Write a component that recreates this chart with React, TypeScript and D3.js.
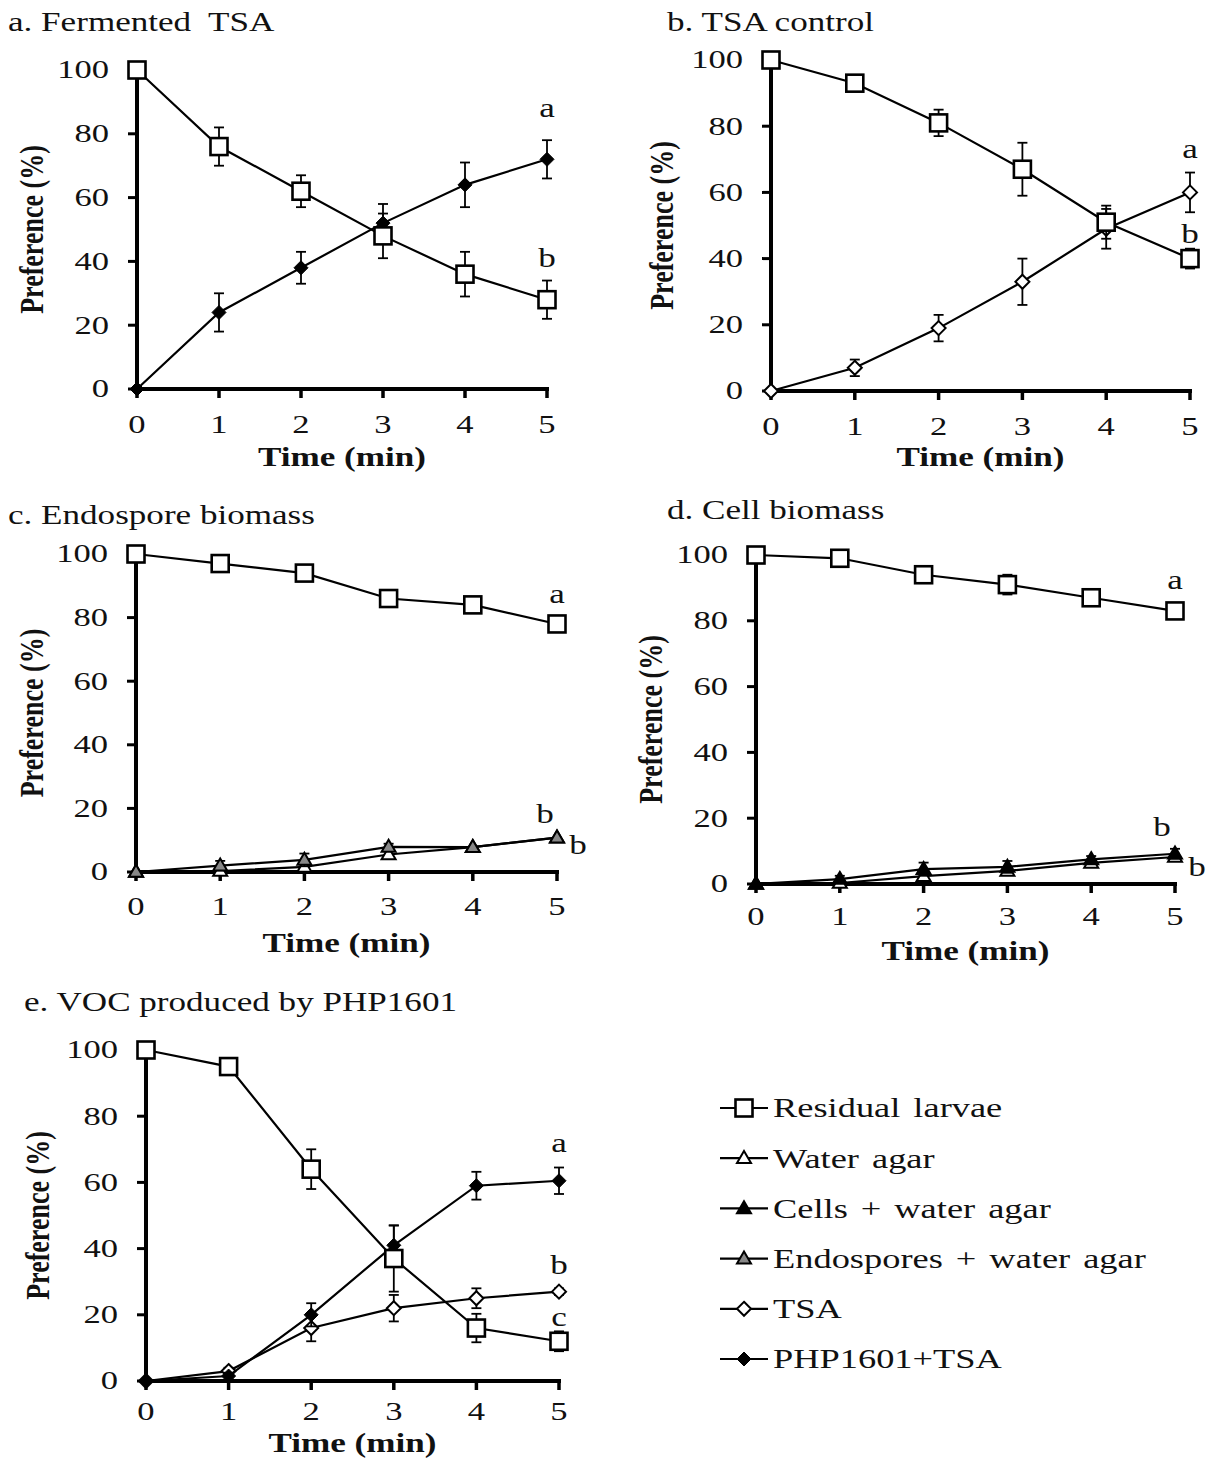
import React from "react";
import * as d3 from "d3";

// ---- data ----
const TIMES = [0, 1, 2, 3, 4, 5];
const Y_TICKS = [0, 20, 40, 60, 80, 100];

// a. Fermented TSA
const fermentedResidual = [100, 76, 62, 48, 36, 28];
const fermentedResidualErr = [0, 6, 5, 7, 7, 6];
const fermentedPhp = [0, 24, 38, 52, 64, 72];
const fermentedPhpErr = [0, 6, 5, 6, 7, 6];

// b. TSA control
const controlResidual = [100, 93, 81, 67, 51, 40];
const controlResidualErr = [0, 1, 4, 8, 5, 3];
const controlTsa = [0, 7, 19, 33, 49, 60];
const controlTsaErr = [0, 2.5, 4, 7, 6, 6];

// c. Endospore biomass
const endoResidual = [100, 97, 94, 86, 84, 78];
const endoResidualErr = [0, 0.5, 2.5, 1, 0.5, 0.5];
const endoWater = [0, 0.3, 1.6, 5.5, 7.8, 10.8];
const endoWaterErr = [0, 0.5, 1, 1, 0.5, 0.5];
const endoSpores = [0, 2, 3.8, 7.9, 7.8, 10.8];
const endoSporesErr = [0, 1.5, 2, 1, 0.5, 0.5];

// d. Cell biomass
const cellResidual = [100, 99, 94, 91, 87, 83];
const cellResidualErr = [0, 0.5, 1.5, 3, 1, 1];
const cellWater = [0, 0.3, 2.4, 4, 6.4, 8.2];
const cellWaterErr = [0, 0.5, 1, 1, 1, 1];
const cellCells = [0, 1.5, 4.5, 5.2, 7.5, 9.2];
const cellCellsErr = [0, 1, 2, 1.8, 1, 1.5];

// e. VOC produced by PHP1601
const vocResidual = [100, 95, 64, 37, 16, 12];
const vocResidualErr = [0, 1, 6, 10, 4.3, 3];
const vocTsa = [0, 3, 16, 22, 25, 27];
const vocTsaErr = [0, 1, 4, 4, 3, 1];
const vocPhp = [0, 1.5, 20, 41, 59, 60.5];
const vocPhpErr = [0, 1, 3.5, 6, 4.2, 4];

const LEGEND_LABELS = [
  "Residual larvae",
  "Water agar",
  "Cells + water agar",
  "Endospores + water agar",
  "TSA",
  "PHP1601+TSA",
];
type MarkerKind = "square" | "triOpen" | "triFilled" | "triGray" | "diaOpen" | "diaFilled";
const LEGEND_MARKERS: MarkerKind[] = ["square", "triOpen", "triFilled", "triGray", "diaOpen", "diaFilled"];

// ---- drawing helpers ----
const FONT = "'Liberation Serif', 'Times New Roman', serif";

function Label(props: {
  x: number;
  y: number;
  size: number;
  sx?: number;
  bold?: boolean;
  anchor?: "start" | "middle" | "end";
  rotate?: boolean;
  wordSpacing?: number;
  children: React.ReactNode;
}) {
  const { x, y, size, sx = 1.28, bold, anchor = "middle", rotate, wordSpacing, children } = props;
  return (
    <g transform={`translate(${x},${y}) scale(${sx},1)${rotate ? " rotate(-90)" : ""}`}>
      <text
        textAnchor={anchor}
        dominantBaseline="central"
        fontSize={size}
        fontWeight={bold ? "bold" : "normal"}
        fontFamily={FONT}
        fill="#111"
        wordSpacing={wordSpacing}
        style={{ whiteSpace: "pre" }}
      >
        {children}
      </text>
    </g>
  );
}

function Marker({ kind, cx, cy }: { kind: MarkerKind; cx: number; cy: number }) {
  switch (kind) {
    case "square": {
      const s = 17;
      return <rect x={cx - s / 2} y={cy - s / 2} width={s} height={s} fill="#fff" stroke="#000" strokeWidth={2.6} />;
    }
    case "diaFilled": {
      const r = 7;
      return <path d={`M${cx},${cy - r}L${cx + r},${cy}L${cx},${cy + r}L${cx - r},${cy}Z`} fill="#000" stroke="#000" strokeWidth={1} />;
    }
    case "diaOpen": {
      const r = 7;
      return <path d={`M${cx},${cy - r}L${cx + r},${cy}L${cx},${cy + r}L${cx - r},${cy}Z`} fill="#fff" stroke="#000" strokeWidth={2} />;
    }
    default: {
      const h = 12;
      const w = 14;
      const fill = kind === "triOpen" ? "#fff" : kind === "triGray" ? "#888" : "#000";
      return (
        <path
          d={`M${cx},${cy - h * 0.6}L${cx + w / 2},${cy + h * 0.4}L${cx - w / 2},${cy + h * 0.4}Z`}
          fill={fill}
          stroke="#000"
          strokeWidth={2}
        />
      );
    }
  }
}

type Series = { values: number[]; err: number[]; marker: MarkerKind };
type Letter = { t: number; v: number; text: string; dx?: number };

type PanelProps = {
  x0: number;
  x1: number;
  y0: number;
  y1: number;
  series: Series[];
  letters: Letter[];
  title: string;
  titleX: number;
  titleY: number;
  tickDy: number;
  timeDy: number;
  ylabelX: number;
};

function Panel(p: PanelProps) {
  const x = d3.scaleLinear().domain([0, 5]).range([p.x0, p.x1]);
  const y = d3.scaleLinear().domain([0, 100]).range([p.y0, p.y1]);
  const line = d3
    .line<number>()
    .x((_, i) => x(TIMES[i]))
    .y((d) => y(d));
  const cap = 5;
  return (
    <g>
      <Label x={p.titleX} y={p.titleY} size={27} sx={1.3} anchor="start">
        {p.title}
      </Label>

      {/* axes */}
      <line x1={p.x0} x2={p.x0} y1={p.y1} y2={p.y0} stroke="#000" strokeWidth={4} />
      <line x1={p.x0} x2={p.x1 + 2} y1={p.y0} y2={p.y0} stroke="#000" strokeWidth={4} />
      {Y_TICKS.map((v) => (
        <g key={"yt" + v}>
          <line x1={p.x0 - 9} x2={p.x0} y1={y(v)} y2={y(v)} stroke="#000" strokeWidth={3} />
          <Label x={p.x0 - 28} y={y(v)} size={26} sx={1.33} anchor="end">
            {v}
          </Label>
        </g>
      ))}
      {TIMES.map((t) => (
        <g key={"xt" + t}>
          <line x1={x(t)} x2={x(t)} y1={p.y0} y2={p.y0 + 9} stroke="#000" strokeWidth={3.5} />
          <Label x={x(t)} y={p.y0 + p.tickDy} size={26} sx={1.33}>
            {t}
          </Label>
        </g>
      ))}
      <Label x={(p.x0 + p.x1) / 2} y={p.y0 + p.timeDy} size={27} sx={1.3} bold>
        Time (min)
      </Label>
      <Label x={p.ylabelX} y={(p.y0 + p.y1) / 2} size={26} bold rotate>
        Preference (%)
      </Label>

      {/* series */}
      {p.series.map((s, si) => (
        <g key={"s" + si}>
          {s.values.map((v, i) =>
            s.err[i] > 0.6 ? (
              <g key={"e" + i} stroke="#000" strokeWidth={1.8}>
                <line x1={x(TIMES[i])} x2={x(TIMES[i])} y1={y(v - s.err[i])} y2={y(v + s.err[i])} />
                <line x1={x(TIMES[i]) - cap} x2={x(TIMES[i]) + cap} y1={y(v + s.err[i])} y2={y(v + s.err[i])} />
                <line x1={x(TIMES[i]) - cap} x2={x(TIMES[i]) + cap} y1={y(v - s.err[i])} y2={y(v - s.err[i])} />
              </g>
            ) : null
          )}
          <path d={line(s.values) || ""} fill="none" stroke="#000" strokeWidth={2.2} />
          {s.values.map((v, i) => (
            <Marker key={"m" + i} kind={s.marker} cx={x(TIMES[i])} cy={y(v)} />
          ))}
        </g>
      ))}

      {p.letters.map((l, i) => (
        <Label key={"l" + i} x={x(l.t) + (l.dx || 0)} y={y(l.v)} size={27} sx={1.3}>
          {l.text}
        </Label>
      ))}
    </g>
  );
}

function Legend({ x, y, gap }: { x: number; y: number; gap: number }) {
  return (
    <g>
      {LEGEND_LABELS.map((label, i) => {
        const cy = y + i * gap;
        return (
          <g key={label}>
            <line x1={x} x2={x + 48} y1={cy} y2={cy} stroke="#000" strokeWidth={2.2} />
            <Marker kind={LEGEND_MARKERS[i]} cx={x + 24} cy={cy} />
            <Label x={x + 53} y={cy} size={28} sx={1.3} wordSpacing={3} anchor="start">
              {label}
            </Label>
          </g>
        );
      })}
    </g>
  );
}

export default function App() {
  return (
    <svg
      width={1208}
      height={1458}
      viewBox="0 0 1208 1458"
      style={{ display: "block", position: "absolute", left: 0, top: 0, background: "#fff" }}
    >
      <rect width={1208} height={1458} fill="#fff" />
      <Panel
        x0={137}
        x1={547}
        y0={389}
        y1={70}
        title={"a. Fermented\u00a0 TSA"}
        titleX={8}
        titleY={22}
        tickDy={36}
        timeDy={68}
        ylabelX={31}
        series={[
          { values: fermentedPhp, err: fermentedPhpErr, marker: "diaFilled" },
          { values: fermentedResidual, err: fermentedResidualErr, marker: "square" },
        ]}
        letters={[
          { t: 5, v: 88, text: "a" },
          { t: 5, v: 41, text: "b" },
        ]}
      />
      <Panel
        x0={771}
        x1={1190}
        y0={391}
        y1={60}
        title="b. TSA control"
        titleX={667}
        titleY={22}
        tickDy={36}
        timeDy={66}
        ylabelX={661}
        series={[
          { values: controlTsa, err: controlTsaErr, marker: "diaOpen" },
          { values: controlResidual, err: controlResidualErr, marker: "square" },
        ]}
        letters={[
          { t: 5, v: 73, text: "a" },
          { t: 5, v: 47.5, text: "b" },
        ]}
      />
      <Panel
        x0={136}
        x1={557}
        y0={872}
        y1={554}
        title="c. Endospore biomass"
        titleX={8}
        titleY={515}
        tickDy={35}
        timeDy={71}
        ylabelX={31}
        series={[
          { values: endoWater, err: endoWaterErr, marker: "triOpen" },
          { values: endoSpores, err: endoSporesErr, marker: "triGray" },
          { values: endoResidual, err: endoResidualErr, marker: "square" },
        ]}
        letters={[
          { t: 5, v: 87.5, text: "a" },
          { t: 5, v: 18.2, text: "b", dx: -12 },
          { t: 5, v: 8.5, text: "b", dx: 21 },
        ]}
      />
      <Panel
        x0={756}
        x1={1175}
        y0={884}
        y1={555}
        title="d. Cell biomass"
        titleX={667}
        titleY={510}
        tickDy={33}
        timeDy={67}
        ylabelX={650}
        series={[
          { values: cellWater, err: cellWaterErr, marker: "triOpen" },
          { values: cellCells, err: cellCellsErr, marker: "triFilled" },
          { values: cellResidual, err: cellResidualErr, marker: "square" },
        ]}
        letters={[
          { t: 5, v: 92.4, text: "a" },
          { t: 5, v: 17.3, text: "b", dx: -13 },
          { t: 5, v: 5.2, text: "b", dx: 22 },
        ]}
      />
      <Panel
        x0={146}
        x1={559}
        y0={1381}
        y1={1050}
        title="e. VOC produced by PHP1601"
        titleX={24}
        titleY={1002}
        tickDy={31}
        timeDy={62}
        ylabelX={37}
        series={[
          { values: vocTsa, err: vocTsaErr, marker: "diaOpen" },
          { values: vocPhp, err: vocPhpErr, marker: "diaFilled" },
          { values: vocResidual, err: vocResidualErr, marker: "square" },
        ]}
        letters={[
          { t: 5, v: 72, text: "a" },
          { t: 5, v: 35, text: "b" },
          { t: 5, v: 19.3, text: "c" },
        ]}
      />
      <Legend x={720} y={1108} gap={50.2} />
    </svg>
  );
}
